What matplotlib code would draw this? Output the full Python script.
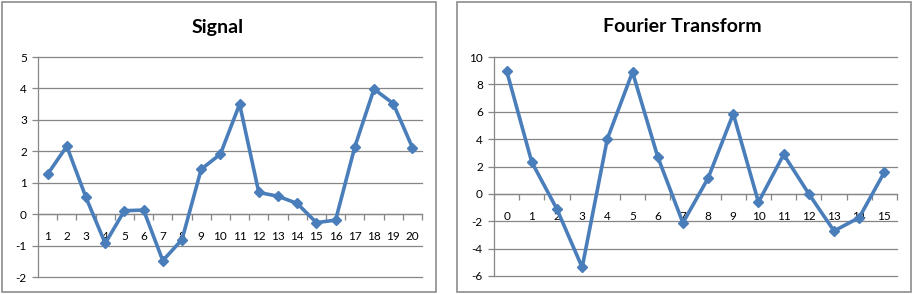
import matplotlib.pyplot as plt
from matplotlib.patches import Rectangle

# Signal samples (categories 1..20)
signal_labels = [str(i) for i in range(1, 21)]
signal_values = [1.27, 2.16, 0.53, -0.93, 0.11, 0.13, -1.48, -0.81, 1.43, 1.91,
                 3.50, 0.69, 0.57, 0.34, -0.27, -0.19, 2.14, 3.98, 3.52, 2.12]

# Fourier transform values (categories 0..15)
fourier_labels = [str(i) for i in range(0, 16)]
fourier_values = [9.0, 2.32, -1.12, -5.37, 4.02, 8.9, 2.71, -2.12,
                  1.15, 5.85, -0.61, 2.88, 0.0, -2.71, -1.73, 1.59]

W, H = 913, 294
LINE = "#4A7EBB"
GRID = "#868686"
plt.rcParams["font.family"] = ["Lato", "DejaVu Sans"]

fig = plt.figure(figsize=(W / 100, H / 100), dpi=100)


def frac(x0, y0, x1, y1):
    # pixel box (top-left origin) -> figure fraction
    return [x0 / W, 1 - y1 / H, (x1 - x0) / W, (y1 - y0) / H]


def draw_panel(frame, box, title, title_x, labels, values, ylim, ystep):
    fx0, fy0, fx1, fy1 = frame
    fig.patches.append(Rectangle((fx0 / W, 1 - fy1 / H), (fx1 - fx0) / W, (fy1 - fy0) / H,
                                 transform=fig.transFigure, fill=False,
                                 edgecolor="#8c8c8c", linewidth=1.2))
    fig.text(title_x / W, 1 - 27 / H, title, ha="center", va="center",
             fontsize=14, fontweight="bold")

    ax = fig.add_axes(frac(*box))
    n = len(labels)
    x = list(range(n))
    ax.plot(x, values, color=LINE, linewidth=2.6, marker="D", markersize=5.5,
            clip_on=False, zorder=3)
    ax.set_xlim(-0.5, n - 0.5)
    ax.set_ylim(*ylim)
    ticks = list(range(ylim[0], ylim[1] + 1, ystep))
    ax.set_yticks(ticks)
    ax.set_yticklabels([str(t) for t in ticks])
    for t in ticks:
        ax.axhline(t, color=GRID, linewidth=0.9, zorder=1, clip_on=False)

    ax.set_xticks(x)
    ax.set_xticklabels(labels)
    ax.set_xticks([i - 0.5 for i in range(n + 1)], minor=True)
    ax.tick_params(axis="x", which="major", length=0, pad=12, labelsize=8.5)
    ax.tick_params(axis="x", which="minor", length=4, width=0.9, color=GRID, direction="out")
    ax.tick_params(axis="y", length=4, width=0.9, color=GRID, labelsize=8.5, pad=4)

    for s in ["top", "right"]:
        ax.spines[s].set_visible(False)
    ax.spines["bottom"].set_position(("data", 0))
    ax.spines["bottom"].set_color(GRID)
    ax.spines["left"].set_color(GRID)
    ax.spines["bottom"].set_linewidth(0.9)
    ax.spines["left"].set_linewidth(0.9)
    return ax


draw_panel((2, 2, 436, 292), (38, 57, 422, 277), "Signal", 218,
           signal_labels, signal_values, (-2, 5), 1)
draw_panel((457, 2, 911, 292), (494, 57, 897, 276), "Fourier Transform", 682,
           fourier_labels, fourier_values, (-6, 10), 2)

fig.savefig("out.png", dpi=100)
